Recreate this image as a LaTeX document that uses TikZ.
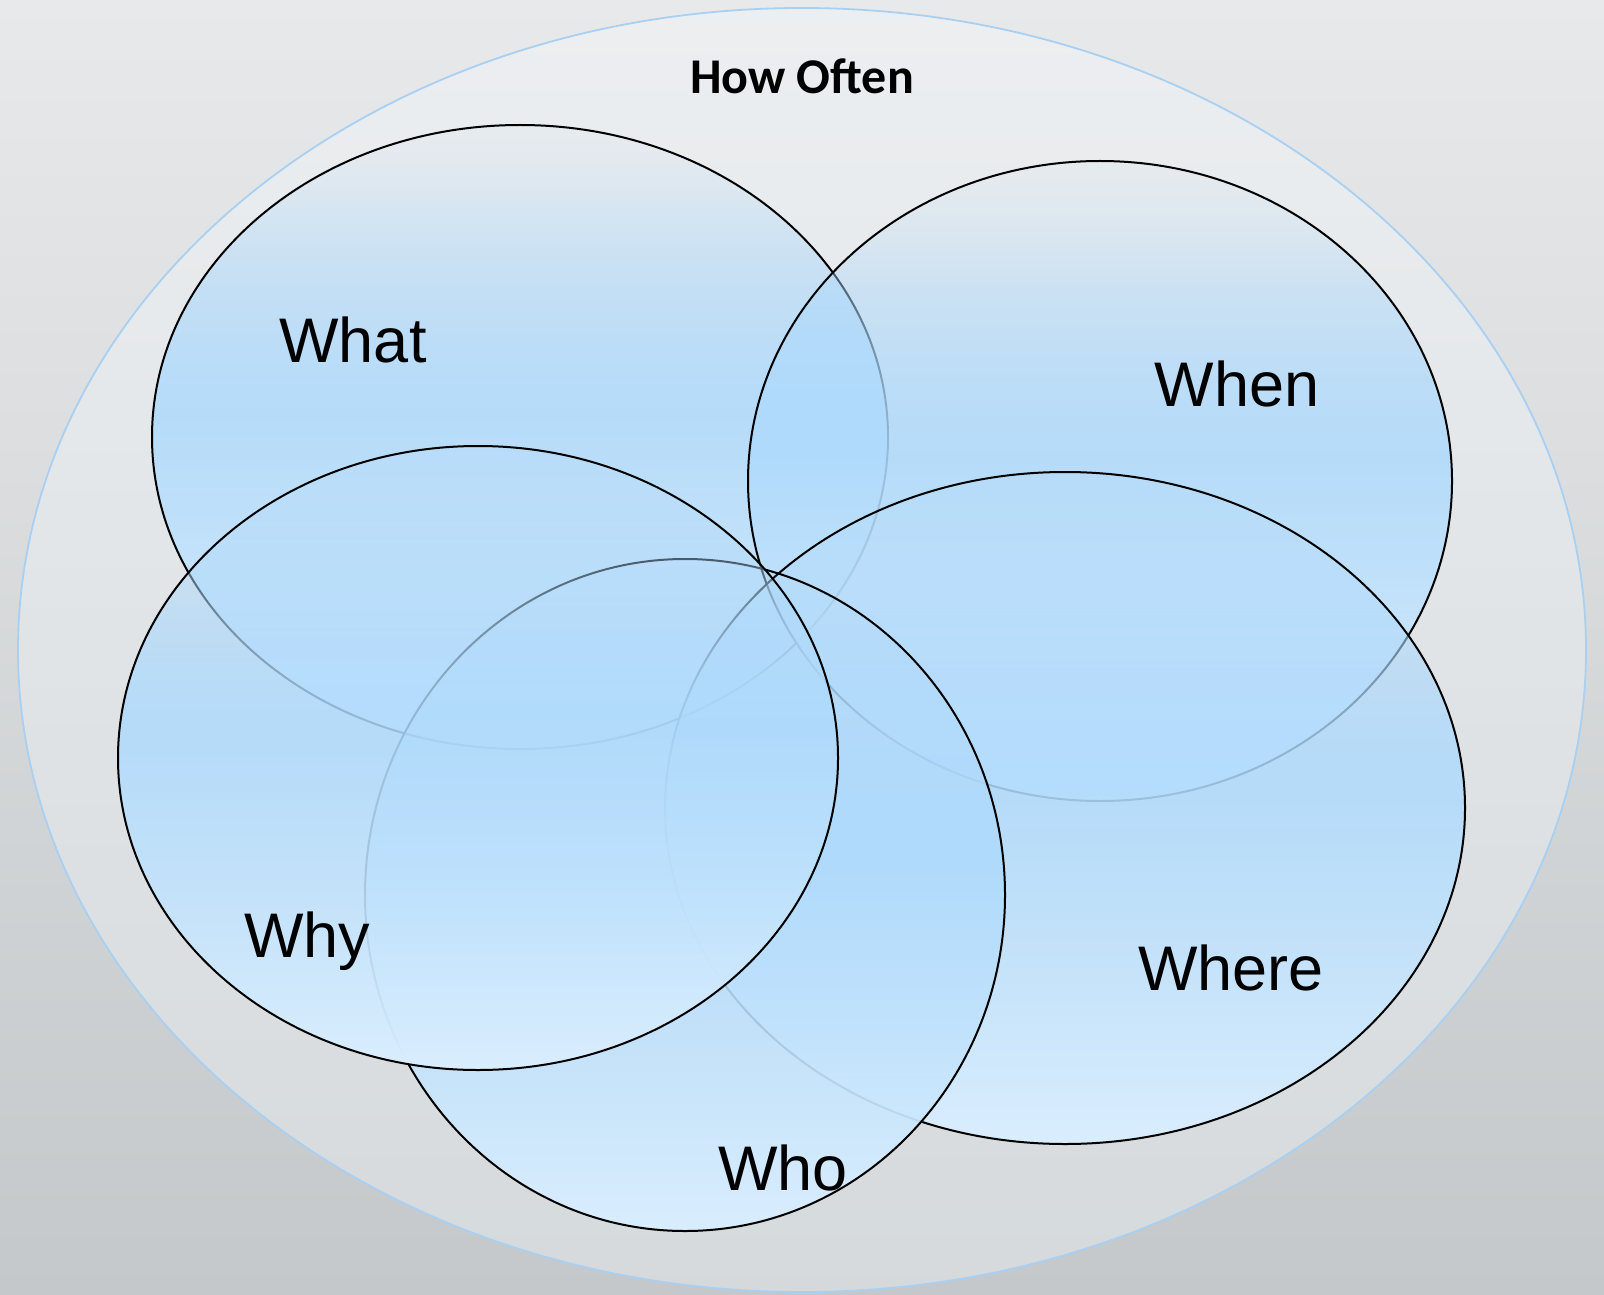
\documentclass[tikz,border=0pt]{standalone}
\usepackage{fontspec}
\setmainfont{Liberation Sans}
\newfontfamily\headfont{Carlito}
\usetikzlibrary{positioning}
\usetikzlibrary{shapes.geometric}
\usetikzlibrary{fadings}

\definecolor{bgtop}{HTML}{E8E9EA}
\definecolor{bgbottom}{HTML}{C4C8CA}
\definecolor{rimblue}{HTML}{A8D0F2}
\definecolor{rimfill}{HTML}{F6FBFF}
\definecolor{petaltop}{HTML}{AED8FA}
\definecolor{petalmid}{HTML}{AFDAFC}
\definecolor{petallow}{HTML}{C0E2FD}
\definecolor{petalbottom}{HTML}{DAEEFE}
\colorlet{maskfull}{white!88!black}
\colorlet{mask90}{white!80!black}
\colorlet{mask70}{white!65!black}
\colorlet{mask50}{white!47!black}
\colorlet{mask15}{white!15!black}
\colorlet{mask05}{white!4!black}

\pgfdeclareverticalshading{petalshade}{100bp}{color(0bp)=(petalbottom); color(25bp)=(petalbottom);
	color(40bp)=(petallow); color(52bp)=(petalmid); color(75bp)=(petaltop); color(100bp)=(petaltop)}
\pgfdeclareverticalshading{petalmask}{100bp}{color(0bp)=(white); color(25bp)=(white); color(40bp)=(maskfull);
	color(51bp)=(maskfull); color(56bp)=(mask90); color(61bp)=(mask70); color(65bp)=(mask50);
	color(71bp)=(mask15); color(75bp)=(mask05); color(100bp)=(mask05)}
\pgfdeclarefading{petalfade}{\pgfuseshading{petalmask}}

\tikzset{
	rim/.style={shape=ellipse,draw=rimblue,line width=0.9pt,inner sep=0pt,fill=rimfill,fill opacity=0.35},
	petal/.style={shape=ellipse,inner sep=0pt,shade,shading=petalshade,path fading=petalfade},
	petalline/.style={shape=ellipse,draw=black,line width=1pt,inner sep=0pt},
	word/.style={anchor=base,font=\fontsize{31.5}{36}\selectfont},
}

\begin{document}
\begin{tikzpicture}
	[	x=0.5pt,				% 1 единица = 1 пиксель
		y=-0.5pt	]			% ось y вниз
	\fill[top color=bgtop,bottom color=bgbottom] (0,0) rectangle (1604,1294);	% фон
	\useasboundingbox (0,0) rectangle (1604,1294);
	\node[rim,minimum width=784pt,minimum height=642pt] (often) at (802,650) {};		% внешний овал
	\foreach \nm/\cx/\cy/\w/\h in {what/520/437/368/312,when/1100/481/352/320,
			where/1065/808/400/336,who/685/895/320/336,why/478/758/360/312}
	{
		\node[petal,minimum width=\w pt,minimum height=\h pt] (\nm) at (\cx,\cy) {};		% заливка, сверху прозрачная
		\node[petalline,minimum width=\w pt,minimum height=\h pt] (\nm line) at (\nm) {};	% контур
	}
	\node[font=\headfont\bfseries\fontsize{25}{30}\selectfont] (oftenlabel) at (802,76) {How Often};
	\node[word] (whatlabel) at (353,363) {What};
	\node[word] (whenlabel) at (1237,406) {When};
	\node[word] (whylabel) at (307,957) {Why};
	\node[word] (wherelabel) at (1231,990) {Where};
	\node[word] (wholabel) at (783,1190) {Who};
\end{tikzpicture}
\end{document}
